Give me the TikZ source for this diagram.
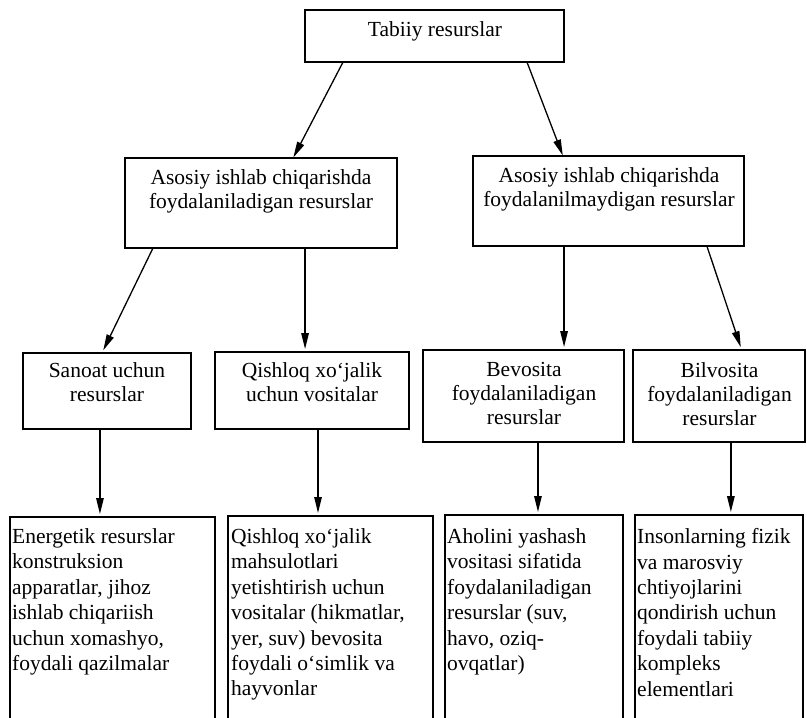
\documentclass[tikz,border=0pt]{standalone}
\usepackage{fontspec}
\setmainfont{Liberation Serif}
\usetikzlibrary{arrows.meta,calc}

\begin{document}
\begin{tikzpicture}[x=1pt,y=-1pt,
  frame/.style={draw, line width=1.5pt, inner sep=0pt, outer sep=0pt, anchor=north west},
  cell/.style={inner sep=0pt, outer sep=0pt, anchor=north west},
  edge/.style={line width=1.5pt},
  heading/.style={inner sep=0pt, align=center, font=\fontsize{21.5}{24}\selectfont},
  body/.style={inner sep=0pt, align=left, anchor=north west, font=\fontsize{21.5}{25.4}\selectfont},
  link/.style={line width=1.3pt, -{Triangle[length=16pt,width=7.5pt]}, shorten >=3pt}]

\useasboundingbox (0,0) rectangle (807,718);

% level 0
\node[frame, minimum width=259pt, minimum height=52pt] (top) at (305,10) {};
\node[heading, anchor=base] (topT) at (435,36) {Tabiiy resurslar};

% level 1
\node[frame, minimum width=272pt, minimum height=90pt] (midL) at (125,158) {};
\node[heading, anchor=north] (midLT) at (261,169)
  {Asosiy ishlab chiqarishda\\foydalaniladigan resurslar};
\node[frame, minimum width=271pt, minimum height=90pt] (midR) at (473,156) {};
\node[heading, anchor=north] (midRT) at (609,167)
  {Asosiy ishlab chiqarishda\\foydalanilmaydigan resurslar};

% level 2
\node[frame, minimum width=168pt, minimum height=76pt] (sanoat) at (23,353) {};
\node[heading, anchor=north] (sanoatT) at (107,362.3) {Sanoat uchun\\resurslar};
\node[frame, minimum width=194pt, minimum height=77pt] (qishloq) at (215,352) {};
\node[heading, anchor=north] (qishloqT) at (312,362.3) {Qishloq xo‘jalik\\uchun vositalar};
\node[frame, minimum width=201pt, minimum height=92pt] (bevosita) at (423,350) {};
\node[heading, anchor=north] (bevositaT) at (524,362.3) {Bevosita\\foydalaniladigan\\resurslar};
\node[frame, minimum width=172pt, minimum height=92pt] (bilvosita) at (633,350) {};
\node[heading, anchor=north] (bilvositaT) at (719.5,362.3) {Bilvosita\\foydalaniladigan\\resurslar};

% level 3 (boxes run off the lower edge)
\node[cell, minimum width=205pt, minimum height=201pt] (ener) at (10,517) {};
\node[cell, minimum width=205pt, minimum height=202pt] (qish) at (228,516) {};
\node[cell, minimum width=178pt, minimum height=203pt] (ahol) at (445,515) {};
\node[cell, minimum width=168pt, minimum height=203pt] (inson) at (635,515) {};
\foreach \b in {ener,qish,ahol,inson}
  \draw[edge] (\b.south west) |- (\b.north east) -- (\b.south east);

\node[body] (enerT) at (12,528.3)
  {Energetik resurslar\\konstruksion\\apparatlar, jihoz\\ishlab chiqariish\\uchun xomashyo,\\foydali qazilmalar};
\node[body] (qishT) at (231,528.3)
  {Qishloq xo‘jalik\\mahsulotlari\\yetishtirish uchun\\vositalar (hikmatlar,\\yer, suv) bevosita\\foydali o‘simlik va\\hayvonlar};
\node[body] (aholT) at (447,528.3)
  {Aholini yashash\\vositasi sifatida\\foydalaniladigan\\resurslar (suv,\\havo, oziq-\\ovqatlar)};
\node[body] (insonT) at (637,528.3)
  {Insonlarning fizik\\va marosviy\\chtiyojlarini\\qondirish uchun\\foydali tabiiy\\kompleks\\elementlari};

% connectors
\draw[link, shorten >=0.5pt] ($(top.south west)!.147!(top.south east)$) -- ($(midL.north west)!.618!(midL.north east)$);
\draw[link, shorten >=0.5pt] ($(top.south west)!.857!(top.south east)$) -- ($(midR.north west)!.332!(midR.north east)$);

\draw[link] ($(midL.south west)!.103!(midL.south east)$) -- ($(sanoat.north west)!.47!(sanoat.north east)$);
\draw[link] ($(midL.south west)!.662!(midL.south east)$) coordinate (p1) -- (p1 |- qishloq.north);
\draw[link] ($(midR.south west)!.336!(midR.south east)$) coordinate (p2) -- (p2 |- bevosita.north);
\draw[link] ($(midR.south west)!.863!(midR.south east)$) -- ($(bilvosita.north west)!.632!(bilvosita.north east)$);

\draw[link] ($(sanoat.south west)!.458!(sanoat.south east)$) coordinate (p3) -- (p3 |- ener.north);
\draw[link] ($(qishloq.south west)!.531!(qishloq.south east)$) coordinate (p4) -- (p4 |- qish.north);
\draw[link] ($(bevosita.south west)!.572!(bevosita.south east)$) coordinate (p5) -- (p5 |- ahol.north);
\draw[link] ($(bilvosita.south west)!.569!(bilvosita.south east)$) coordinate (p6) -- (p6 |- inson.north);
\end{tikzpicture}
\end{document}
